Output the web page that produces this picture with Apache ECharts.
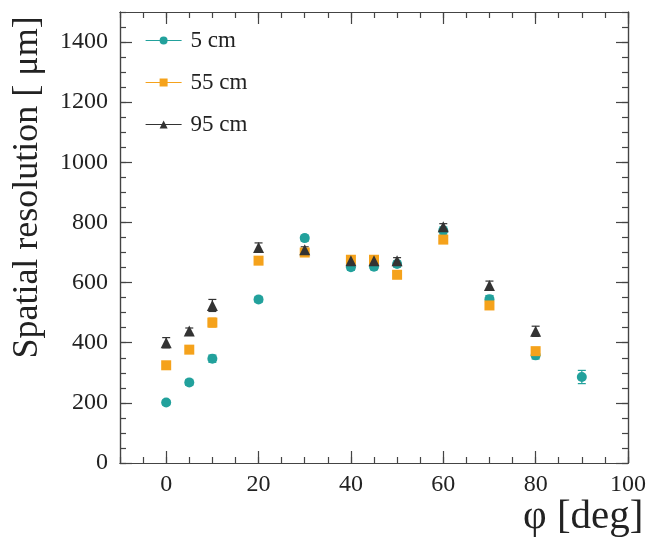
<!DOCTYPE html>
<html>
<head>
<meta charset="utf-8">
<script src="https://cdn.jsdelivr.net/npm/echarts@6/dist/echarts.min.js"></script>
<style>html,body{margin:0;padding:0;background:#fff}#c{width:652px;height:542px}</style>
</head>
<body>
<div id="c"></div>
<script>
const phi5 = [0, 5, 10, 20, 30, 40, 45, 50, 60, 70, 80, 90];
const res5 = [201, 268, 347, 544, 748, 651, 653, 662, 773, 545, 358, 286];
const err5 = [8, 10, 12, 10, 10, 10, 10, 10, 12, 12, 12, 22];
const phi55 = [0, 5, 10, 20, 30, 40, 45, 50, 60, 70, 80];
const res55 = [325, 377, 467, 673, 700, 676, 676, 626, 743, 524, 372];
const err55 = [10, 10, 15, 10, 10, 10, 10, 10, 10, 10, 10];
const phi95 = [0, 5, 10, 20, 30, 40, 45, 50, 60, 70, 80];
const res95 = [400, 439, 524, 717, 709, 673, 673, 673, 786, 590, 438];
const err95 = [17, 10, 20, 15, 10, 10, 10, 10, 10, 15, 17];
const xMajor = [0, 20, 40, 60, 80, 100];
const yMajor = [0, 200, 400, 600, 800, 1000, 1200, 1400];

const xMinor = []; for (let v = -10; v <= 100; v += 5) xMinor.push(v);
const yMinor = []; for (let v = 0; v <= 1500; v += 50) yMinor.push(v);

const FONT = 'Liberation Serif';
const AX = '#444';

function mk(xs, ys, es) { return xs.map((x, i) => [x, ys[i], es[i]]); }

function errSeries(data, color) {
  return {
    type: 'custom', xAxisIndex: 0, yAxisIndex: 0, z: 1, silent: true,
    data: data,
    encode: { x: 0, y: 1 },
    renderItem: function (params, api) {
      const x = api.value(0), y = api.value(1), e = api.value(2);
      const top = api.coord([x, y + e]);
      const bot = api.coord([x, y - e]);
      const c = 4;
      const st = { stroke: color, lineWidth: 1.2 };
      return { type: 'group', children: [
        { type: 'line', shape: { x1: top[0], y1: top[1], x2: bot[0], y2: bot[1] }, style: st },
        { type: 'line', shape: { x1: top[0] - c, y1: top[1], x2: top[0] + c, y2: top[1] }, style: st },
        { type: 'line', shape: { x1: bot[0] - c, y1: bot[1], x2: bot[0] + c, y2: bot[1] }, style: st }
      ]};
    }
  };
}

const C5 = '#22a19c', C55 = '#f5a21b', C95 = '#333333';

function ptSeries(name, xs, ys, color, symbol, size) {
  return {
    name: name, type: 'line', xAxisIndex: 0, yAxisIndex: 0, z: 3,
    data: xs.map((x, i) => [x, ys[i]]),
    symbol: symbol, symbolSize: size, showSymbol: true, showAllSymbol: true,
    lineStyle: { opacity: 0, width: 1 },
    itemStyle: { color: color },
    emphasis: { disabled: true }
  };
}

const plain = v => String(v);

function xAx(pos, values, len, labels, name) {
  const a = {
    type: 'value', position: pos, min: -10, max: 100, gridIndex: 0,
    axisLine: { show: true, onZero: false, lineStyle: { color: AX, width: 1.2 } },
    axisTick: { show: true, inside: true, length: len, customValues: values, lineStyle: { color: AX, width: 1.2 } },
    axisLabel: { show: labels, customValues: xMajor, formatter: plain, margin: 10, fontFamily: FONT, fontSize: 24, color: '#222' },
    splitLine: { show: false }
  };
  if (name) {
    a.name = name; a.nameLocation = 'end'; a.nameGap = -105;
    a.nameTextStyle = { fontFamily: FONT, fontSize: 41, color: '#222', align: 'left', verticalAlign: 'top', padding: [34, 0, 0, 0] };
  }
  return a;
}
function yAx(pos, values, len, labels, name) {
  const a = {
    type: 'value', position: pos, min: 0, max: 1500, gridIndex: 0,
    axisLine: { show: true, onZero: false, lineStyle: { color: AX, width: 1.2 } },
    axisTick: { show: true, inside: true, length: len, customValues: values, lineStyle: { color: AX, width: 1.2 } },
    axisLabel: { show: labels, customValues: yMajor, formatter: plain, margin: 12, fontFamily: FONT, fontSize: 24, color: '#222' },
    splitLine: { show: false }
  };
  if (name) {
    a.name = name; a.nameLocation = 'middle'; a.nameGap = 74; a.nameRotate = 90;
    a.nameTextStyle = { fontFamily: FONT, fontSize: 36, color: '#222', padding: [0, 0, 0, 100] };
  }
  return a;
}

const chart = echarts.init(document.getElementById('c'), null, { renderer: 'canvas' });
chart.setOption({
  animation: false,
  backgroundColor: '#fff',
  grid: { left: 120, right: 24, top: 12, bottom: 79, containLabel: false },
  legend: {
    orient: 'vertical', left: 140, top: 24, itemGap: 19, itemWidth: 36, itemHeight: 10,
    data: ['5 cm', '55 cm', '95 cm'],
    textStyle: { fontFamily: FONT, fontSize: 23, color: '#222', padding: [0, 0, 0, 4] },
    lineStyle: { opacity: 1, width: 1.2 }
  },
  xAxis: [
    xAx('bottom', xMajor, 12, true, 'φ [deg]'),
    xAx('bottom', xMinor, 6, false),
    xAx('top', xMajor, 12, false),
    xAx('top', xMinor, 6, false)
  ],
  yAxis: [
    yAx('left', yMajor, 12, true, 'Spatial resolution [ μm]'),
    yAx('left', yMinor, 6, false),
    yAx('right', yMajor, 12, false),
    yAx('right', yMinor, 6, false)
  ],
  series: [
    errSeries(mk(phi5, res5, err5), C5),
    errSeries(mk(phi55, res55, err55), C55),
    errSeries(mk(phi95, res95, err95), C95),
    ptSeries('5 cm', phi5, res5, C5, 'circle', 10),
    ptSeries('55 cm', phi55, res55, C55, 'rect', 10),
    ptSeries('95 cm', phi95, res95, C95, 'triangle', 11)
  ]
});
</script>
</body>
</html>
